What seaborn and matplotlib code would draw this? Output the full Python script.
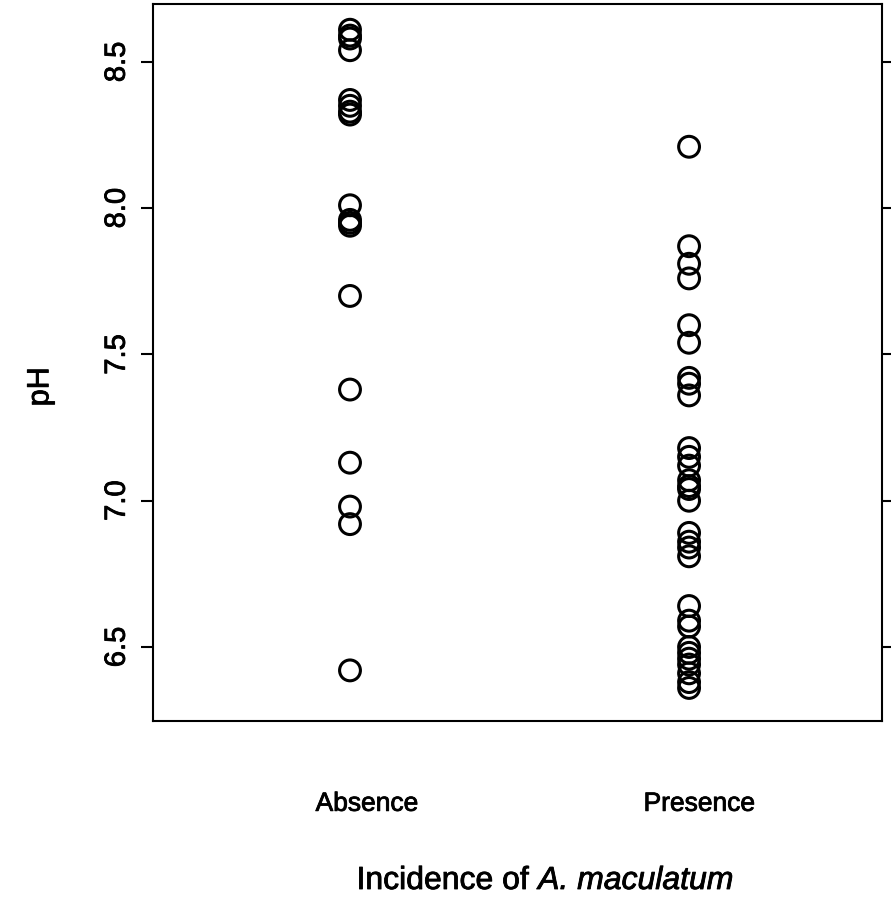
import matplotlib
matplotlib.use("Agg")
import matplotlib.pyplot as plt
import matplotlib.patheffects as pe
import seaborn as sns
import pandas as pd

# pH of sampled sites, grouped by incidence of A. maculatum
absence_ph = [6.42, 6.92, 6.98, 7.13, 7.38, 7.70, 7.94, 7.95, 7.96, 8.01,
              8.32, 8.33, 8.35, 8.37, 8.54, 8.58, 8.59, 8.61]
presence_ph = [8.21, 7.87, 7.81, 7.76, 7.60, 7.54, 7.42, 7.40, 7.36,
               7.18, 7.15, 7.12, 7.07, 7.05, 7.04, 7.00,
               6.89, 6.86, 6.84, 6.81, 6.64, 6.59, 6.57,
               6.50, 6.48, 6.46, 6.44, 6.41, 6.38, 6.36]
categories = ["Absence", "Presence"]
y_ticks = [6.5, 7.0, 7.5, 8.0, 8.5]
y_tick_labels = ["6.5", "7.0", "7.5", "8.0", "8.5"]
xlabel_plain = "Incidence of"
xlabel_species = "A. maculatum"

df = pd.DataFrame({
    "incidence": [categories[0]] * len(absence_ph) + [categories[1]] * len(presence_ph),
    "pH": absence_ph + presence_ph,
})

sns.set_style("ticks")
plt.rcParams["font.family"] = ["Liberation Sans", "DejaVu Sans"]

# slightly heavier strokes for all text
heavy = [pe.withStroke(linewidth=0.6, foreground="black")]

W, H = 891, 904
fig = plt.figure(figsize=(W / 100, H / 100), dpi=100)
ax = fig.add_axes([153 / W, 1 - 722 / H, 729 / W, 717 / H])

sns.stripplot(data=df, x="incidence", y="pH", order=categories, jitter=False,
              marker="o", s=15, facecolors="none", edgecolor="black",
              linewidth=2.2, color="black", ax=ax)
for coll in ax.collections:
    coll.set_facecolor("none")
    coll.set_edgecolor("black")

ax.set_xlim(-0.581, 1.569)
ax.set_ylim(6.247, 8.698)

for sp in ax.spines.values():
    sp.set_visible(True)
    sp.set_linewidth(1.5)
    sp.set_color("black")

ax.set_yticks(y_ticks)
ax.set_yticklabels(y_tick_labels)
ax.tick_params(axis="y", which="both", left=True, right=True, direction="out",
               length=9, width=1.5, labelsize=21, pad=7, labelrotation=90,
               colors="black")
for lab in ax.get_yticklabels():
    lab.set_va("center")
    lab.set_path_effects(heavy)

ax.set_xticks([0.05, 1.03])
ax.set_xticklabels(categories)
ax.tick_params(axis="x", length=0, pad=51, labelsize=19, colors="black")
for lab in ax.get_xticklabels():
    lab.set_path_effects(heavy)
ax.set_xlabel("")

ax.set_ylabel("pH", fontsize=22, color="black", path_effects=heavy)
ax.yaxis.set_label_coords(-0.134, 0.466)

# x-axis title: plain part followed by the italic species name
fs = 23
renderer = fig.canvas.get_renderer()
y_title = 1 - 882 / H
t1 = fig.text(0, y_title, xlabel_plain, fontsize=fs, va="center", ha="left",
              color="black", path_effects=heavy)
t2 = fig.text(0, y_title, xlabel_species, fontsize=fs, style="italic",
              va="center", ha="left", color="black", path_effects=heavy)
w1 = t1.get_window_extent(renderer).width
w2 = t2.get_window_extent(renderer).width
space = 0.278 * fs * 100 / 72
total = w1 + space + w2
x0 = 545 - total / 2
t1.set_x(x0 / W)
t2.set_x((x0 + w1 + space) / W)

fig.savefig("out.png", dpi=100, facecolor="white")
